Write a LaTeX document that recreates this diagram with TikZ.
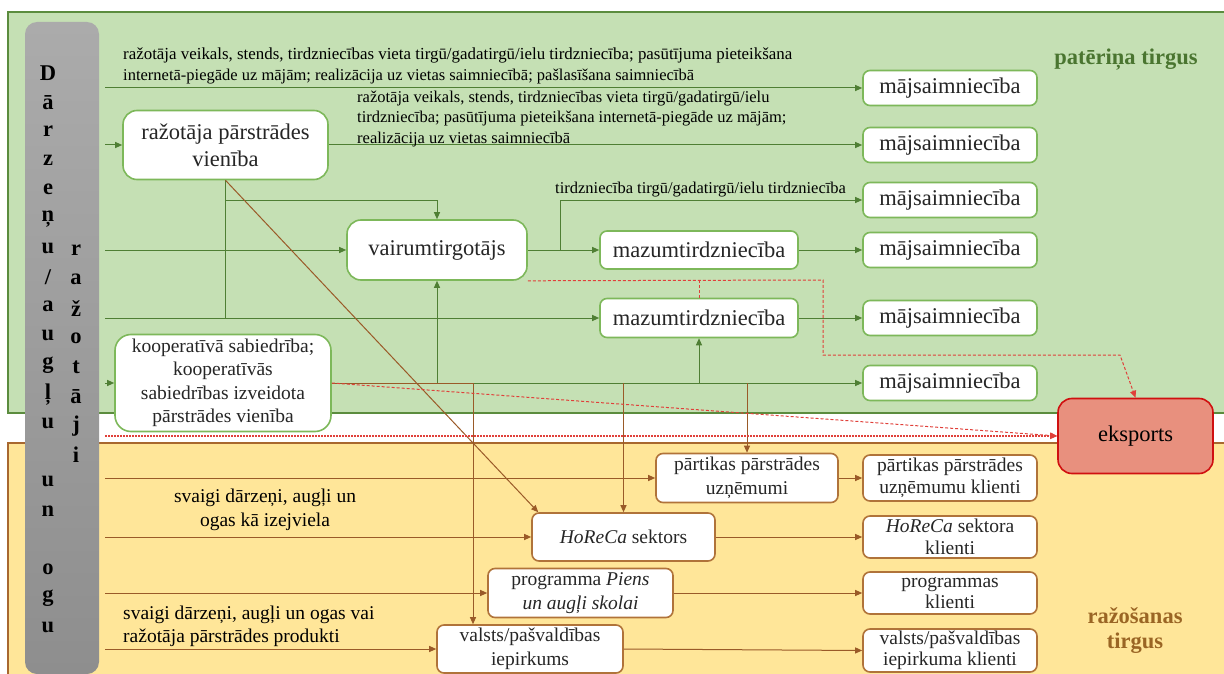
\documentclass[tikz,border=0pt]{standalone}
\usepackage{fontspec}
\usepackage{graphicx}
\setmainfont{Liberation Serif}
\usetikzlibrary{arrows.meta}

\definecolor{mktgreen}{HTML}{C5E0B4}
\definecolor{edgegreen}{HTML}{5B8C3E}
\definecolor{boxgreen}{HTML}{7DB85A}
\definecolor{linegreen}{HTML}{4F7F34}
\definecolor{mktyellow}{HTML}{FFE699}
\definecolor{edgebrown}{HTML}{A8682F}
\definecolor{boxbrown}{HTML}{B0733A}
\definecolor{linebrown}{HTML}{9A5A28}
\definecolor{expred}{HTML}{E8907E}
\definecolor{expedge}{HTML}{D01010}
\definecolor{dashred}{HTML}{E0403A}
\definecolor{barTop}{HTML}{ABABAB}
\definecolor{barBot}{HTML}{8E8E8E}
\definecolor{txtgreen}{HTML}{4A7530}
\definecolor{txtbrown}{HTML}{9A6524}

\newcommand{\hhfont}{\fontsize{22.5}{27}\selectfont}
\newcommand{\midfont}{\fontsize{19.5}{23.5}\selectfont}
\newcommand{\cltfont}{\fontsize{19.5}{21.5}\selectfont}
\newcommand{\lblfont}{\fontsize{16.5}{20.5}\selectfont}
\newcommand{\ttlfont}{\fontsize{22.5}{25}\selectfont\bfseries}

\begin{document}
\begin{tikzpicture}[x=1pt,y=-1pt,
    gbox/.style={draw=boxgreen,line width=1.6pt,fill=white,rounded corners=7pt,
        align=center,inner sep=0pt,text=black!85},
    ybox/.style={draw=boxbrown,line width=1.6pt,fill=white,rounded corners=7pt,
        align=center,inner sep=0pt,text=black!85},
    garrow/.style={draw=linegreen,line width=1pt,-{Triangle[length=7pt,width=6pt]}},
    barrow/.style={draw=linebrown,line width=1pt,-{Triangle[length=7pt,width=6pt]}},
    gline/.style={draw=linegreen,line width=1pt},
    bline/.style={draw=linebrown,line width=1pt},
    rdash/.style={draw=dashred,line width=1pt,dash pattern=on 3pt off 2pt,
        -{Triangle[length=7pt,width=6pt]}},
    rdot/.style={draw=dashred,line width=1.2pt,dash pattern=on 1.5pt off 1.5pt,
        -{Triangle[length=7pt,width=6pt]}}]
    \useasboundingbox (0,0) rectangle (1224,674);

    % Market areas
    \draw[edgegreen,fill=mktgreen,line width=1.2pt] (8,12) rectangle (1232,413);
    \draw[edgebrown,fill=mktyellow,line width=1.4pt] (8,443) rectangle (1232,690);
    \node[font=\ttlfont,text=txtgreen] (tcons) at (1126,60) {patēriņa tirgus};
    \node[font=\ttlfont,text=txtbrown,align=center] (tprod) at (1135,631) {ražošanas\\tirgus};

    % Growers bar
    \node[rounded corners=12pt,top color=barTop,bottom color=barBot,
        minimum width=74pt,minimum height=652pt,inner sep=0pt] (grower) at (62,348) {};
    \foreach \ch [count=\i] in {D,ā,r,z,e,ņ,u,/,a,u,g,ļ,u,{},u,n,{},o,g,u}
        \node[font=\hhfont\bfseries] (ltr\i) at (48,{73+(\i-1)*29.2}) {\ch};
    \foreach \ch [count=\i] in {r,a,ž,o,t,ā,j,i}
        \node[font=\hhfont\bfseries] (ltrb\i) at (76,{250+(\i-1)*29.3}) {\ch};
    \coordinate (gb) at (105,0);

    % Consumer market nodes
    \node[gbox,minimum width=205pt,minimum height=69pt,rounded corners=14pt,font=\hhfont]
        (prod) at (225.5,145) {ražotāja pārstrādes\\vienība};
    \node[gbox,minimum width=180pt,minimum height=60pt,rounded corners=14pt,font=\hhfont]
        (wholesale) at (437,250) {vairumtirgotājs};
    \node[gbox,minimum width=198pt,minimum height=38pt,font=\hhfont]
        (retA) at (699,250) {mazumtirdzniecība};
    \node[gbox,minimum width=198pt,minimum height=39pt,font=\hhfont]
        (retB) at (699,318) {mazumtirdzniecība};
    \node[gbox,minimum width=216pt,minimum height=97pt,rounded corners=16pt,font=\midfont]
        (coop) at (223,383) {kooperatīvā sabiedrība;\\kooperatīvās\\sabiedrības izveidota\\pārstrādes vienība};
    \foreach \n/\y in {1/88,2/145,3/200,4/250,5/318,6/383}
        \node[gbox,minimum width=174pt,minimum height=35pt,font=\hhfont]
            (hh\n) at (950,\y) {mājsaimniecība};

    % Production market nodes
    \node[ybox,minimum width=182pt,minimum height=49pt,font=\midfont]
        (food) at (747,478) {pārtikas pārstrādes\\uzņēmumi};
    \node[ybox,minimum width=183pt,minimum height=48pt,font=\midfont]
        (horeca) at (623.5,537) {\textit{HoReCa} sektors};
    \node[ybox,minimum width=185pt,minimum height=49pt,font=\midfont]
        (school) at (580.5,593) {programma \textit{Piens}\\\textit{un augļi skolai}};
    \node[ybox,minimum width=186pt,minimum height=48pt,font=\midfont]
        (state) at (530,649) {valsts/pašvaldības\\iepirkums};
    \node[ybox,minimum width=174pt,minimum height=46pt,font=\cltfont]
        (foodC) at (950,478) {pārtikas pārstrādes\\uzņēmumu klienti};
    \node[ybox,minimum width=174pt,minimum height=42pt,font=\cltfont]
        (horecaC) at (950,537) {\textit{HoReCa} sektora\\klienti};
    \node[ybox,minimum width=174pt,minimum height=42pt,font=\cltfont]
        (schoolC) at (950,593) {programmas\\klienti};
    \node[ybox,minimum width=174pt,minimum height=43pt,font=\cltfont]
        (stateC) at (950,650.5) {valsts/pašvaldības\\iepirkuma klienti};

    % Export
    \node[draw=expedge,fill=expred,line width=1.6pt,rounded corners=14pt,
        minimum width=155pt,minimum height=75pt,font=\hhfont] (export) at (1135.5,436) {eksports};

    % Green flows
    \draw[garrow] (gb |- hh1.west) -- (hh1.west);
    \draw[garrow] (gb |- prod.west) -- (prod.west);
    \draw[garrow] (prod.east) -- (hh2.west);
    \draw[garrow] (gb |- wholesale.west) -- (wholesale.west);
    \draw[garrow] (gb |- retB.west) -- (retB.west);
    \draw[gline] (prod.south) -- (prod.south |- retB.west);
    \coordinate (pj) at (225.5,200);
    \draw[garrow] (pj) -| (wholesale.north);
    \draw[garrow] (wholesale.east) -- (retA.west);
    \coordinate (wb) at (560,250);
    \draw[garrow] (wb) |- (hh3.west);
    \draw[garrow] (retA.east) -- (hh4.west);
    \draw[garrow] (retB.east) -- (hh5.west);
    \draw[garrow] (gb |- coop.west) -- (coop.west);
    \draw[garrow] (coop.east) -- (hh6.west);
    \draw[garrow] (wholesale.south |- coop.east) -- (wholesale.south);
    \draw[garrow] (retB.south |- coop.east) -- (retB.south);

    % Brown flows
    \coordinate (d1) at (473,383);
    \draw[bline] (coop.east) -- (d1);
    \draw[barrow] (d1) -- (d1 |- state.north);
    \draw[barrow] (horeca.north |- coop.east) -- (horeca.north);
    \draw[barrow] (food.north |- coop.east) -- (food.north);
    \draw[barrow] (prod.south) -- ([xshift=7pt]horeca.north west);
    \draw[barrow] (gb |- food.west) -- (food.west);
    \draw[barrow] (gb |- horeca.west) -- (horeca.west);
    \draw[barrow] (gb |- school.west) -- (school.west);
    \draw[barrow] (gb |- state.west) -- (state.west);
    \draw[barrow] (food.east) -- (foodC.west);
    \draw[barrow] (horeca.east) -- (horecaC.west);
    \draw[barrow] (school.east) -- (schoolC.west);
    \draw[barrow] (state.east) -- (stateC.west);

    % Export flows
    \coordinate (rd1) at (823,280);
    \coordinate (rd2) at (1120,355);
    \draw[rdash] (wholesale.south east) -- (rd1) |- (rd2) -- (export.north);
    \draw[rdash,-] (retB.north) -- (retB.north |- rd1);
    \draw[rdash] (coop.east) -- (export.west);
    \draw[rdot] (gb |- export.west) -- (export.west);

    % Channel labels
    \node[anchor=west,align=left,font=\lblfont,inner sep=0pt] (lab1) at (123,66)
        {\resizebox{669pt}{!}{ražotāja veikals, stends, tirdzniecības vieta tirgū/gadatirgū/ielu tirdzniecība; pasūtījuma pieteikšana}\\
         internetā-piegāde uz mājām; realizācija uz vietas saimniecībā; pašlasīšana saimniecībā};
    \node[anchor=west,align=left,font=\lblfont,inner sep=0pt] (lab2) at (357,119)
        {ražotāja veikals, stends, tirdzniecības vieta tirgū/gadatirgū/ielu\\
         tirdzniecība; pasūtījuma pieteikšana internetā-piegāde uz mājām;\\
         realizācija uz vietas saimniecībā};
    \node[anchor=west,font=\lblfont,inner sep=0pt] (lab3) at (555,190)
        {tirdzniecība tirgū/gadatirgū/ielu tirdzniecība};
    \node[align=center,font=\midfont,inner sep=0pt] (lab4) at (265,510)
        {svaigi dārzeņi, augļi un\\ogas kā izejviela};
    \node[anchor=west,align=left,font=\midfont,inner sep=0pt] (lab5) at (123,626.5)
        {svaigi dārzeņi, augļi un ogas vai\\ražotāja pārstrādes produkti};
\end{tikzpicture}
\end{document}
